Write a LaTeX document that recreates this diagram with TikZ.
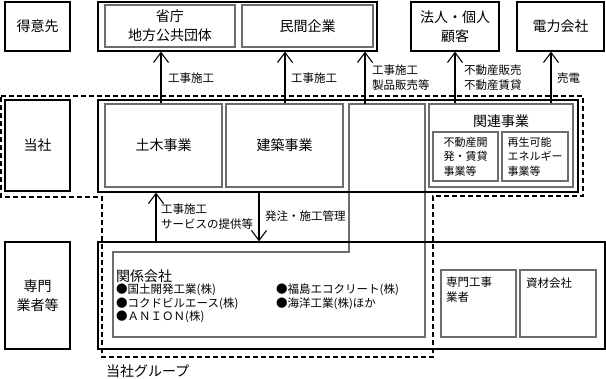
\documentclass[tikz,border=0pt]{standalone}
\usepackage{fontspec}
\setmainfont{Noto Sans CJK JP}
\usetikzlibrary{arrows.meta}
\definecolor{innergray}{HTML}{6E6E6E}
\tikzset{
  obox/.style={draw=black, line width=1.3pt, inner sep=0pt, font=\fontsize{14}{19}\selectfont, align=center},
  ibox/.style={draw=innergray, line width=1.2pt, inner sep=0pt, font=\fontsize{14}{19}\selectfont, align=center},
  sbox/.style={draw=innergray, line width=1.2pt, inner sep=0pt, font=\fontsize{11}{14.5}\selectfont, align=left},
  lbl/.style={anchor=west, inner sep=0pt, font=\fontsize{11.5}{15}\selectfont, align=left},
  item/.style={anchor=west, inner sep=0pt, font=\fontsize{11.5}{13.5}\selectfont},
  arr/.style={line width=1.1pt, -{Straight Barb[length=10pt,width=15pt,line width=1.1pt]}},
  grp/.style={draw=black, line width=1.1pt, dash pattern=on 5pt off 3pt},
}
\begin{document}
\begin{tikzpicture}[x=1pt,y=-1pt]
\useasboundingbox (0,0) rectangle (606,379);

% dashed group outline
\draw[grp] (1,96) -- (583,96) -- (583,196) -- (433,196) -- (433,357) -- (102,357) -- (102,197) -- (1,197) -- cycle;

% left column
\node[obox, minimum width=65pt, minimum height=49pt] (tokui) at (37.5,26.5) {得意先};
\node[obox, minimum width=65pt, minimum height=91pt] (tousha) at (37.5,145.5) {当社};
\node[obox, minimum width=65pt, minimum height=107pt] (senmon) at (37.5,295.5) {専門\\業者等};

% customers
\node[obox, minimum width=279pt, minimum height=49pt] (cust) at (237.5,26.5) {};
\node[ibox, minimum width=130pt, minimum height=42pt] (kancho) at (170,26) {省庁\\地方公共団体};
\node[ibox, minimum width=131pt, minimum height=42pt] (minkan) at (307.5,26) {民間企業};
\node[obox, minimum width=88pt, minimum height=49pt] (kojin) at (455,26.5) {法人・個人\\顧客};
\node[obox, minimum width=87pt, minimum height=49pt] (denryoku) at (560.5,26.5) {電力会社};

% company business
\draw[draw=innergray, line width=1.2pt] (113,252) -- (349,252) -- (349,104) -- (425,104) -- (425,337) -- (113,337) -- cycle;
\coordinate (col3) at (387,104);
\node[obox, minimum width=480pt, minimum height=92pt] (biz) at (338,146) {};
\node[ibox, minimum width=117pt, minimum height=83pt] (doboku) at (163.5,145.5) {土木事業};
\node[ibox, minimum width=117pt, minimum height=83pt] (kenchiku) at (284.5,145.5) {建築事業};
\node[ibox, minimum width=144pt, minimum height=83pt] (kanren) at (501,145.5) {};
\node[inner sep=0pt, font=\fontsize{14}{19}\selectfont] (kanrent) at (501,121) {関連事業};
\node[sbox, minimum width=65pt, minimum height=49pt] (fudosan) at (465.5,156.5) {不動産開\\発・賃貸\\事業等};
\node[sbox, minimum width=66pt, minimum height=49pt] (saisei) at (535,156.5) {再生可能\\エネルギー\\事業等};

% lower group
\node[obox, minimum width=507pt, minimum height=107pt] (lower) at (351.5,295.5) {};
\node[inner sep=0pt, anchor=west, font=\fontsize{14}{19}\selectfont] (kankei) at (116,276) {関係会社};
\node[item] (k1) at (116,290) {●国土開発工業(株)};
\node[item] (k2) at (116,303.5) {●コクドビルエース(株)};
\node[item] (k3) at (116,317) {●ＡＮＩＯＮ(株)};
\node[item] (k4) at (276,290) {●福島エコクリート(株)};
\node[item] (k5) at (276,303.5) {●海洋工業(株)ほか};
\node[draw=innergray, line width=1.1pt, minimum width=75pt, minimum height=67pt, inner sep=0pt] (koji) at (478.5,303.5) {};
\node[lbl] at (446,290) {専門工事\\業者};
\node[draw=innergray, line width=1.1pt, minimum width=76pt, minimum height=67pt, inner sep=0pt] (shizai) at (558,303.5) {};
\node[lbl] at (526,283) {資材会社};

\node[inner sep=0pt, anchor=west, font=\fontsize{14}{19}\selectfont] (group) at (106,371) {当社グループ};

% arrow positions
\coordinate (a1) at (161,0);
\coordinate (a2) at (285,0);
\coordinate (a3) at (365,0);
\coordinate (a4) at (455,0);
\coordinate (a5) at (551,0);
\coordinate (b1) at (156,0);
\coordinate (b2) at (259,0);

\draw[arr] (a1 |- doboku.north) -- (a1 |- cust.south);
\draw[arr] (a2 |- kenchiku.north) -- (a2 |- cust.south);
\draw[arr] (a3 |- col3) -- (a3 |- cust.south);
\draw[arr] (a4 |- kanren.north) -- (a4 |- kojin.south);
\draw[arr] (a5 |- kanren.north) -- (a5 |- denryoku.south);
\draw[arr] (b1 |- lower.north) -- (b1 |- biz.south);
\draw[arr] (b2 |- biz.south) -- (b2 |- lower.north);

\node[lbl] at (168,78) {工事施工};
\node[lbl] at (291,78) {工事施工};
\node[lbl] at (372,78) {工事施工\\製品販売等};
\node[lbl] at (464,78) {不動産販売\\不動産賃貸};
\node[lbl] at (557,78) {売電};
\node[lbl] at (161,217) {工事施工\\サービスの提供等};
\node[lbl] at (265,216) {発注・施工管理};
\end{tikzpicture}
\end{document}
